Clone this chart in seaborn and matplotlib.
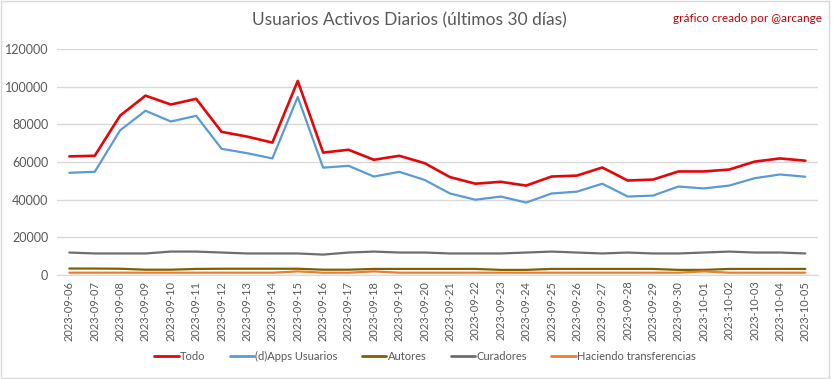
import matplotlib
matplotlib.use("Agg")
import matplotlib.pyplot as plt
import seaborn as sns
import pandas as pd

# ===============================
# Datos
# ===============================
fechas = [
    "2023-09-06", "2023-09-07", "2023-09-08", "2023-09-09", "2023-09-10",
    "2023-09-11", "2023-09-12", "2023-09-13", "2023-09-14", "2023-09-15",
    "2023-09-16", "2023-09-17", "2023-09-18", "2023-09-19", "2023-09-20",
    "2023-09-21", "2023-09-22", "2023-09-23", "2023-09-24", "2023-09-25",
    "2023-09-26", "2023-09-27", "2023-09-28", "2023-09-29", "2023-09-30",
    "2023-10-01", "2023-10-02", "2023-10-03", "2023-10-04", "2023-10-05",
]
todo = [63000, 63300, 84600, 95200, 90500, 93500, 76000, 73500, 70300, 103000,
        65000, 66500, 61200, 63300, 59400, 52000, 48500, 49500, 47500, 52300,
        52800, 57100, 50200, 50700, 55000, 55000, 56000, 60200, 61900, 60700]
dapps = [54300, 54800, 76800, 87200, 81500, 84500, 67000, 64700, 61900, 94500,
         57000, 58000, 52300, 54800, 50500, 43300, 40000, 41700, 38500, 43300,
         44300, 48500, 41700, 42200, 47000, 46000, 47500, 51400, 53400, 52200]
autores = [3500, 3500, 3400, 2900, 2900, 3300, 3400, 3400, 3400, 3400,
           2900, 2900, 3300, 3300, 3300, 3300, 3300, 2800, 2800, 3300,
           3300, 3300, 3300, 3300, 2800, 2800, 3300, 3300, 3300, 3300]
curadores = [12000, 11500, 11500, 11500, 12500, 12500, 12000, 11500, 11500, 11500,
             10900, 12000, 12500, 12000, 12000, 11500, 11500, 11500, 12000, 12500,
             12000, 11500, 12000, 11500, 11500, 12000, 12500, 12000, 12000, 11500]
transferencias = [1300, 1300, 1300, 1300, 1300, 1300, 1300, 1300, 1300, 2000,
                  1300, 1300, 2000, 1300, 1300, 1300, 1300, 1300, 1300, 1300,
                  1300, 1300, 1300, 1300, 1300, 2000, 1300, 1300, 1300, 1300]

series = {
    "Todo": todo,
    "(d)Apps Usuarios": dapps,
    "Autores": autores,
    "Curadores": curadores,
    "Haciendo transferencias": transferencias,
}
colores = {
    "Todo": "#E3060B",
    "(d)Apps Usuarios": "#5B9BD5",
    "Autores": "#7F6000",
    "Curadores": "#6E6E6E",
    "Haciendo transferencias": "#ED7D31",
}

df = pd.DataFrame(
    [(f, nombre, v) for nombre, vals in series.items() for f, v in zip(fechas, vals)],
    columns=["fecha", "serie", "usuarios"],
)

# ===============================
# Gráfico
# ===============================
sns.set_style("white")
plt.rcParams["font.family"] = ["Lato", "DejaVu Sans"]

fig = plt.figure(figsize=(8.33, 3.79), dpi=100)
ax = fig.add_axes([0.068, 0.274, 0.914, 0.597])

sns.lineplot(data=df, x="fecha", y="usuarios", hue="serie", palette=colores,
             ax=ax, sort=False, legend=False)
for line, nombre in zip(ax.get_lines(), series):
    line.set_linewidth(1.9 if nombre == "Todo" else 1.6)

ax.set_xlim(-0.5, len(fechas) - 0.5)
ax.set_ylim(0, 120000)
ax.set_yticks(range(0, 120001, 20000))
ax.yaxis.grid(True, color="#D9D9D9", linewidth=1)
ax.set_axisbelow(True)
ax.set_xlabel("")
ax.set_ylabel("")
ax.set_xticks(range(len(fechas)))
ax.set_xticklabels(fechas, rotation=90, fontsize=8, color="#595959")
ax.tick_params(axis="y", labelsize=9, labelcolor="#595959", length=0, pad=6)
ax.tick_params(axis="x", length=0, pad=4)
for s in ["top", "right", "left"]:
    ax.spines[s].set_visible(False)
ax.spines["bottom"].set_color("#D9D9D9")

fig.text(0.492, 0.945, "Usuarios Activos Diarios (últimos 30 días)",
         ha="center", va="center", fontsize=12.5, color="#595959")
fig.text(0.987, 0.952, "gráfico creado por @arcange",
         ha="right", va="center", fontsize=8.5, color="#C00000")

handles = [plt.Line2D([], [], color=colores[n], linewidth=2) for n in series]
fig.legend(handles, list(series), loc="center", bbox_to_anchor=(0.51, 0.06),
           ncol=5, frameon=False, fontsize=8, handlelength=2.2,
           handletextpad=0.1, columnspacing=2.2, labelcolor="#595959")

fig.patches.append(plt.Rectangle((0.001, 0.002), 0.994, 0.995, transform=fig.transFigure,
                                 fill=False, edgecolor="#D9D9D9", linewidth=1))

fig.savefig("out.png", dpi=100)
